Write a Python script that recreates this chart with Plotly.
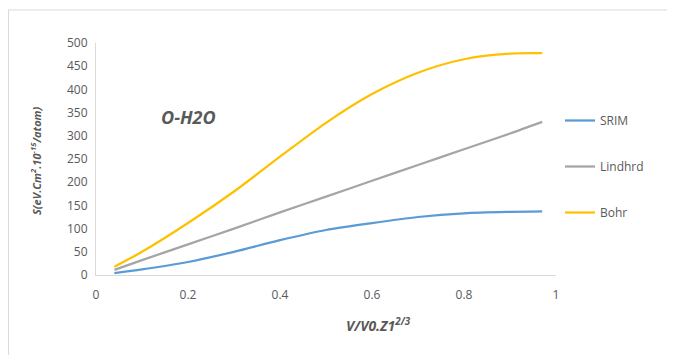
import plotly.graph_objects as go

x_vals = [0.04, 0.1, 0.2, 0.3, 0.4, 0.5, 0.6, 0.7, 0.8, 0.9, 0.97]
srim = [4, 12, 28, 50, 75, 97, 112, 125, 133, 136, 137]
lindhard = [11, 32, 66, 100, 135, 169, 203, 237, 271, 305, 330]
bohr = [18, 50, 112, 180, 255, 328, 390, 436, 465, 477, 478]

series_names = ["SRIM", "Lindhrd", "Bohr"]
series_colors = ["#5B9BD5", "#A5A5A5", "#FFC000"]
series_vals = [srim, lindhard, bohr]

x_ticks = [0, 0.2, 0.4, 0.6, 0.8, 1]
x_tick_text = ["0", "0.2", "0.4", "0.6", "0.8", "1"]
y_ticks = list(range(0, 501, 50))

# page is offset by 8px body margin
OFF = 8
W, H = 675 - OFF, 355 - OFF
L, T = 96 - OFF, 43 - OFF
R = W - (556 - OFF)
B = H - (275 - OFF)
PW, PH = W - L - R, H - T - B


def px(xp):
    return (xp - OFF - L) / PW


def py(yp):
    return (H - B - (yp - OFF)) / PH


fig = go.Figure()
for i, (name, col, vals) in enumerate(zip(series_names, series_colors, series_vals)):
    fig.add_trace(go.Scatter(
        x=x_vals, y=vals, mode="lines", name=name, legendgroup=str(i),
        line=dict(color=col, width=2.25, shape="spline", smoothing=0.8),
    ))

font_family = "'Open Sans', Lato, Arial, sans-serif"
tick_font = dict(family=font_family, size=12, color="#595959")

fig.update_layout(
    width=W, height=H,
    margin=dict(l=L, r=R, t=T, b=B),
    paper_bgcolor="white", plot_bgcolor="white",
    showlegend=True,
    legend=dict(
        x=px(560), y=py(106), xanchor="left", yanchor="top",
        font=dict(family=font_family, size=12, color="#595959"),
        tracegroupgap=27, itemwidth=30,
        bgcolor="rgba(0,0,0,0)",
    ),
    xaxis=dict(
        range=[0, 1], tickvals=x_ticks, ticktext=x_tick_text,
        showgrid=False, zeroline=False, showline=True, linecolor="#D9D9D9",
        linewidth=1, ticks="", tickfont=tick_font, ticklabelstandoff=9,
    ),
    yaxis=dict(
        range=[0, 500], tickvals=y_ticks,
        showgrid=False, zeroline=False, showline=True, linecolor="#D9D9D9",
        linewidth=1, ticks="", tickfont=tick_font, ticklabelstandoff=5,
    ),
    annotations=[
        dict(text="<b><i>O-H2O</i></b>", xref="paper", yref="paper",
             x=px(159), y=py(117),
             xanchor="left", yanchor="middle", showarrow=False,
             font=dict(family=font_family, size=18, color="#595959")),
        dict(text="<b><i>V/V0.Z1<sup>2/3</sup></i></b>", xref="paper", yref="paper",
             x=px(378), y=py(325),
             xanchor="center", yanchor="middle", showarrow=False,
             font=dict(family=font_family, size=14, color="#595959")),
        dict(text="<b><i>S(eV.Cm<sup>2</sup>.10<sup>-15</sup>/atom)</i></b>",
             xref="paper", yref="paper",
             x=px(36), y=py(161),
             xanchor="center", yanchor="middle", showarrow=False, textangle=-90,
             font=dict(family=font_family, size=11, color="#595959")),
    ],
    shapes=[
        dict(type="line", xref="paper", yref="paper",
             x0=px(OFF), x1=px(675),
             y0=py(10), y1=py(10),
             line=dict(color="#D9D9D9", width=1)),
        dict(type="line", xref="paper", yref="paper",
             x0=px(OFF + 0.5), x1=px(OFF + 0.5),
             y0=py(10), y1=py(355),
             line=dict(color="#D9D9D9", width=1)),
    ],
)

fig.write_html("out.html")
